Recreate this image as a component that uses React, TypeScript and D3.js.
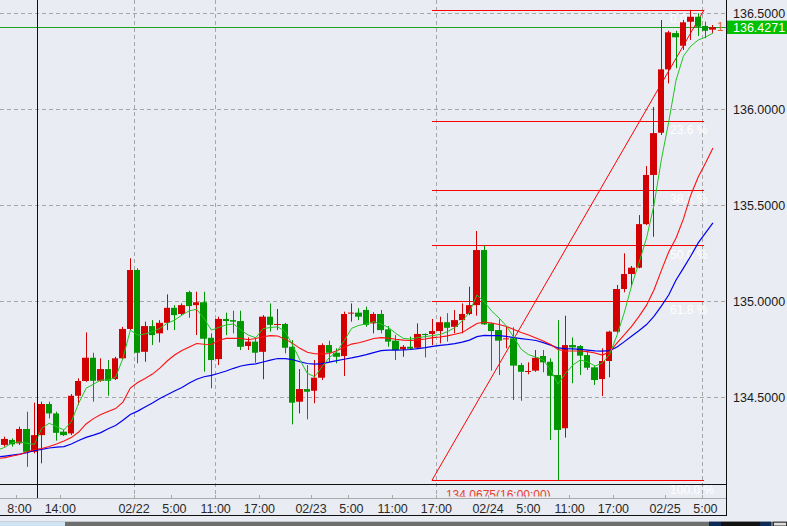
import React from "react";
import * as d3 from "d3";

// hours relative to 02/22 00:00 ; first candle hour
const startHour = -19;

const opens = [
  134.231, 134.252, 134.278, 134.260, 134.335, 134.216, 134.303, 134.465, 134.416, 134.321,
  134.312, 134.508, 134.585, 134.706, 134.586, 134.647, 134.595, 134.703, 134.856, 135.163,
  134.737, 134.871, 134.833, 134.888, 134.966, 134.934, 135.048, 134.980, 134.995, 134.810,
  134.699, 134.908, 134.902, 134.897, 134.767, 134.790, 134.737, 134.920, 134.877, 134.882,
  134.763, 134.477, 134.543, 134.534, 134.602, 134.772, 134.732, 134.715, 134.938, 134.941,
  134.955, 134.885, 134.934, 134.854, 134.795, 134.750, 134.763, 134.758, 134.830, 134.830,
  134.845, 134.891, 134.867, 134.902, 134.934, 134.980, 135.267, 134.885, 134.850, 134.802,
  134.807, 134.668, 134.633, 134.639, 134.715, 134.685, 134.616, 134.339, 134.772, 134.767,
  134.720, 134.656, 134.595, 134.689, 134.842, 135.064, 135.142, 135.175, 135.402, 135.658,
  135.878, 136.208, 136.397, 136.331, 136.456, 136.482, 136.434, 136.415,
];
const highs = [
  134.260, 134.295, 134.286, 134.347, 134.425, 134.472, 134.477, 134.477, 134.425, 134.330,
  134.517, 134.599, 134.838, 134.732, 134.703, 134.694, 134.711, 134.867, 135.224, 135.172,
  134.894, 134.902, 134.902, 135.036, 134.980, 134.989, 135.055, 135.050, 135.050, 134.833,
  134.920, 134.941, 134.951, 134.951, 134.812, 134.812, 134.928, 134.989, 134.960, 134.888,
  134.798, 134.647, 134.668, 134.694, 134.781, 134.795, 134.755, 134.946, 134.989, 134.964,
  134.972, 134.943, 134.955, 134.871, 134.824, 134.772, 134.816, 134.885, 134.833, 134.908,
  134.920, 134.938, 134.955, 134.989, 135.076, 135.366, 135.290, 134.888, 134.906, 134.871,
  134.865, 134.679, 134.682, 134.746, 134.746, 134.703, 134.902, 134.925, 134.812, 134.772,
  134.743, 134.663, 134.755, 134.847, 135.085, 135.250, 135.184, 135.449, 135.705, 136.012,
  136.465, 136.409, 136.409, 136.465, 136.518, 136.500, 136.456, 136.439,
];
const lows = [
  134.225, 134.243, 134.243, 134.252, 134.138, 134.208, 134.156, 134.390, 134.274, 134.298,
  134.303, 134.460, 134.581, 134.477, 134.581, 134.508, 134.590, 134.694, 134.850, 134.677,
  134.685, 134.772, 134.786, 134.850, 134.850, 134.928, 134.914, 134.824, 134.633, 134.547,
  134.668, 134.824, 134.833, 134.746, 134.746, 134.680, 134.594, 134.842, 134.850, 134.729,
  134.359, 134.416, 134.385, 134.469, 134.590, 134.685, 134.677, 134.611, 134.894, 134.902,
  134.867, 134.833, 134.833, 134.763, 134.694, 134.711, 134.746, 134.755, 134.708, 134.772,
  134.781, 134.790, 134.833, 134.833, 134.928, 134.925, 134.877, 134.639, 134.616, 134.755,
  134.486, 134.482, 134.620, 134.633, 134.630, 134.278, 134.0675, 134.290, 134.573, 134.616,
  134.642, 134.564, 134.507, 134.604, 134.833, 135.047, 135.076, 135.172, 135.397, 135.336,
  135.866, 136.135, 136.214, 136.309, 136.361, 136.382, 136.370, 136.396,
];
const closes = [
  134.252, 134.283, 134.255, 134.335, 134.216, 134.303, 134.465, 134.416, 134.315, 134.303,
  134.508, 134.585, 134.706, 134.586, 134.647, 134.586, 134.703, 134.856, 135.163, 134.732,
  134.871, 134.824, 134.888, 134.966, 134.928, 134.980, 134.975, 134.995, 134.805, 134.694,
  134.908, 134.897, 134.894, 134.763, 134.790, 134.732, 134.920, 134.877, 134.882, 134.758,
  134.472, 134.543, 134.529, 134.602, 134.772, 134.732, 134.711, 134.934, 134.941, 134.920,
  134.877, 134.934, 134.850, 134.790, 134.746, 134.763, 134.753, 134.830, 134.824, 134.845,
  134.891, 134.862, 134.902, 134.934, 134.980, 135.267, 134.880, 134.845, 134.795, 134.807,
  134.665, 134.633, 134.637, 134.706, 134.682, 134.612, 134.330, 134.772, 134.760, 134.717,
  134.654, 134.590, 134.689, 134.842, 135.064, 135.142, 135.175, 135.402, 135.658, 135.876,
  136.208, 136.401, 136.375, 136.453, 136.482, 136.430, 136.409, 136.4271,
];

const maFast = [
  134.225, 134.240, 134.264, 134.267, 134.260, 134.255, 134.339, 134.365, 134.347, 134.330,
  134.373, 134.469, 134.547, 134.568, 134.590, 134.590, 134.604, 134.703, 134.850, 134.824,
  134.830, 134.842, 134.859, 134.885, 134.902, 134.928, 134.951, 134.958, 134.911, 134.850,
  134.864, 134.877, 134.882, 134.850, 134.824, 134.810, 134.857, 134.864, 134.867, 134.842,
  134.772, 134.694, 134.625, 134.607, 134.659, 134.708, 134.737, 134.795, 134.859, 134.875,
  134.882, 134.894, 134.882, 134.864, 134.833, 134.807, 134.803, 134.811, 134.816, 134.822,
  134.827, 134.842, 134.863, 134.897, 134.944, 135.033, 134.996, 134.949, 134.913, 134.871,
  134.812, 134.750, 134.722, 134.710, 134.694, 134.642, 134.568, 134.624, 134.668, 134.694,
  134.685, 134.663, 134.678, 134.725, 134.824, 134.944, 135.085, 135.204, 135.330, 135.501,
  135.736, 135.934, 136.152, 136.277, 136.329, 136.361, 136.376, 136.397,
];
const maMid = [
  134.181, 134.186, 134.194, 134.202, 134.216, 134.228, 134.233, 134.244, 134.257, 134.272,
  134.290, 134.319, 134.361, 134.389, 134.410, 134.426, 134.441, 134.475, 134.548, 134.577,
  134.598, 134.621, 134.652, 134.689, 134.720, 134.744, 134.762, 134.780, 134.776, 134.775,
  134.797, 134.807, 134.807, 134.807, 134.800, 134.806, 134.815, 134.821, 134.819, 134.803,
  134.781, 134.755, 134.735, 134.727, 134.726, 134.728, 134.743, 134.761, 134.777, 134.784,
  134.795, 134.806, 134.811, 134.808, 134.802, 134.798, 134.796, 134.799, 134.804, 134.811,
  134.814, 134.820, 134.828, 134.837, 134.861, 134.884, 134.892, 134.887, 134.879, 134.869,
  134.853, 134.837, 134.824, 134.809, 134.793, 134.775, 134.749, 134.741, 134.741, 134.741,
  134.738, 134.731, 134.720, 134.737, 134.783, 134.827, 134.871, 134.923, 134.980, 135.059,
  135.160, 135.257, 135.330, 135.429, 135.554, 135.647, 135.720, 135.798,
];
const maSlow = [
  134.189, 134.194, 134.199, 134.204, 134.212, 134.223, 134.229, 134.236, 134.240, 134.243,
  134.257, 134.275, 134.291, 134.303, 134.316, 134.336, 134.353, 134.380, 134.410, 134.428,
  134.449, 134.470, 134.494, 134.513, 134.533, 134.551, 134.574, 134.594, 134.607, 134.614,
  134.625, 134.637, 134.651, 134.663, 134.670, 134.674, 134.684, 134.694, 134.702, 134.701,
  134.696, 134.685, 134.676, 134.673, 134.675, 134.683, 134.691, 134.698, 134.705, 134.713,
  134.722, 134.733, 134.743, 134.746, 134.746, 134.747, 134.749, 134.754, 134.759, 134.765,
  134.770, 134.774, 134.780, 134.787, 134.798, 134.816, 134.822, 134.821, 134.821, 134.817,
  134.811, 134.806, 134.801, 134.796, 134.785, 134.772, 134.757, 134.754, 134.752, 134.750,
  134.746, 134.742, 134.741, 134.743, 134.762, 134.790, 134.819, 134.848, 134.879, 134.921,
  134.975, 135.033, 135.111, 135.173, 135.236, 135.304, 135.356, 135.408,
];

const priceTicks = [136.5, 136.0, 135.5, 135.0, 134.5];
const timeTicks = [-16, -10, 0, 5, 11, 17, 24, 29, 35, 41, 48, 53, 59, 65, 72, 77];
const timeLabels = ["8:00", "14:00", "02/22", "5:00", "11:00", "17:00", "02/23", "5:00", "11:00", "17:00", "02/24", "5:00", "11:00", "17:00", "02/25", "5:00"];
const vGridHours = [0, 11, 41, 77];
const crossHour = -13.15;
const lastPrice = 136.4271;

const fibLow = 134.0675;
const fibHigh = 136.518;
const fibLevels = [0, 0.236, 0.382, 0.5, 0.618, 1];
const fibLabels = ["0.0 %", "23.6 %", "38.2 %", "50.0 %", "61.8 %", "100.0 %"];
const fibStartHour = 40.4;
const fibEndHour = 77.3;
const fibLowLabel = "134.0675(16:00:00)";

const W = 787;
const H = 526;
const plotR = 726;
const plotB = 484;
const axisLineY = 498;
const bottomLineY = 515;

const BG = "#e9ecf3";
const RED = "#d20000";
const GREEN = "#009600";
const FONT = "'Liberation Sans', Arial, sans-serif";

export default function App() {
  const x = d3.scaleLinear().domain([0, 24]).range([134, 311]);
  const y = d3.scaleLinear().domain([134.5, 136.5]).range([397.3, 13.3]);

  const hours = opens.map((_, i) => startHour + i);
  const line = (vals: number[]) =>
    d3
      .line<number>()
      .x((_, i) => x(hours[i] + 0.5))
      .y((v) => y(v))(vals) || "";

  const fx0 = x(fibStartHour);
  const fx1 = x(fibEndHour);
  const fibPrice = (l: number) => fibHigh - l * (fibHigh - fibLow);

  return (
    <svg
      width={W}
      height={H}
      style={{ position: "absolute", left: 0, top: 0, display: "block" }}
      fontFamily={FONT}
    >
      <defs>
        <clipPath id="plot">
          <rect x={0} y={0} width={plotR} height={plotB} />
        </clipPath>
        <clipPath id="below">
          <rect x={0} y={plotB + 1} width={plotR} height={11.5} />
        </clipPath>
        <clipPath id="right">
          <rect x={0} y={0} width={plotR} height={plotB} />
        </clipPath>
      </defs>
      <rect x={0} y={0} width={W} height={H} fill={BG} />

      {/* horizontal grid */}
      {priceTicks.map((p) => (
        <line
          key={"hg" + p}
          x1={0}
          x2={plotR}
          y1={Math.round(y(p)) + 0.5}
          y2={Math.round(y(p)) + 0.5}
          stroke="#a6a6a6"
          strokeDasharray="4,3"
        />
      ))}
      {/* vertical grid */}
      {vGridHours.map((h) => (
        <line
          key={"vg" + h}
          x1={Math.round(x(h)) + 0.5}
          x2={Math.round(x(h)) + 0.5}
          y1={0}
          y2={axisLineY}
          stroke="#a6a6a6"
          strokeDasharray="4,3"
        />
      ))}

      {/* current price line */}
      <line
        x1={0}
        x2={plotR}
        y1={Math.round(y(lastPrice)) + 0.5}
        y2={Math.round(y(lastPrice)) + 0.5}
        stroke="#1aa31a"
        strokeWidth={1}
      />

      {/* fibonacci */}
      <g clipPath="url(#plot)">
        {fibLevels.map((l) => (
          <line
            key={"fl" + l}
            x1={fx0}
            x2={fx1}
            y1={Math.round(y(fibPrice(l))) + 0.5}
            y2={Math.round(y(fibPrice(l))) + 0.5}
            stroke="#ff0000"
            strokeWidth={1}
          />
        ))}
        <line x1={fx0} y1={y(fibLow)} x2={fx1} y2={y(fibHigh)} stroke="#ff0000" strokeWidth={1} />
        {fibLevels.slice(0, 5).map((l, i) => (
          <text key={"ft" + l} x={fx1 - 34} y={y(fibPrice(l)) + 13.5} fontSize={12} fill="#ffffff">
            {fibLabels[i]}
          </text>
        ))}
      </g>
      <g clipPath="url(#below)">
        <text x={fx1 - 34} y={y(fibPrice(1)) + 13.5} fontSize={12} fill="#ffffff">
          {fibLabels[5]}
        </text>
        <text x={fx0 + 14} y={y(fibLow) + 18.5} fontSize={12} fill="#e8402a">
          {fibLowLabel}
        </text>
      </g>

      {/* candles */}
      <g clipPath="url(#plot)">
        {opens.map((o, i) => {
          const h = hours[i];
          const c = closes[i];
          const col = c >= o ? RED : GREEN;
          const l0 = Math.round(x(h));
          const r0 = Math.round(x(h + 1));
          const cx = Math.floor(x(h + 0.5)) + 0.5;
          const yt = y(Math.max(o, c));
          const yb = y(Math.min(o, c));
          return (
            <g key={"c" + i}>
              <line x1={cx} x2={cx} y1={y(highs[i])} y2={y(lows[i])} stroke={col} strokeWidth={1} />
              <rect x={l0} y={yt} width={r0 - l0 - 1} height={Math.max(1, yb - yt)} fill={col} />
            </g>
          );
        })}
      </g>

      {/* moving averages */}
      <g clipPath="url(#plot)" fill="none">
        <path d={line(maSlow)} stroke="#0000ee" strokeWidth={1.2} />
        <path d={line(maMid)} stroke="#ff1010" strokeWidth={1.1} />
        <path d={line(maFast)} stroke="#22c422" strokeWidth={1} />
      </g>

      <text x={717} y={31} fontSize={12} fill="#e8602a" clipPath="url(#right)">
        1
      </text>

      {/* crosshair */}
      <line
        x1={Math.round(x(crossHour)) + 0.5}
        x2={Math.round(x(crossHour)) + 0.5}
        y1={0}
        y2={axisLineY}
        stroke="#111"
        strokeWidth={1}
      />

      {/* frame */}
      <line x1={0} x2={plotR + 0.5} y1={plotB + 0.5} y2={plotB + 0.5} stroke="#111" />
      <line x1={0} x2={plotR} y1={axisLineY + 0.5} y2={axisLineY + 0.5} stroke="#aaaaaa" />
      <line x1={0} x2={plotR + 0.5} y1={bottomLineY + 0.5} y2={bottomLineY + 0.5} stroke="#111" />
      <line x1={plotR + 0.5} x2={plotR + 0.5} y1={0} y2={bottomLineY + 1} stroke="#111" />

      {/* time axis */}
      {timeTicks.map((t, i) => (
        <g key={"tt" + i}>
          <line
            x1={Math.round(x(t)) + 0.5}
            x2={Math.round(x(t)) + 0.5}
            y1={axisLineY - 3}
            y2={axisLineY}
            stroke="#aaaaaa"
          />
          <text x={x(t) + 15.7} y={513} fontSize={12.5} fill="#2a2a2a" textAnchor="end">
            {timeLabels[i]}
          </text>
        </g>
      ))}

      {/* price axis */}
      {priceTicks.map((p) => (
        <text key={"pt" + p} x={733} y={y(p) + 5} fontSize={12.5} fill="#1a1a1a">
          {p.toFixed(4)}
        </text>
      ))}
      <rect x={727} y={y(lastPrice) - 6.7} width={60} height={13.4} fill="#00c000" />
      <text x={733} y={y(lastPrice) + 4.8} fontSize={12.5} fill="#ffffff">
        {lastPrice.toFixed(4)}
      </text>

      {/* bottom scroll strip */}
      <rect x={0} y={521.7} width={W} height={H - 521.7} fill="#6e6e6e" />
      <rect x={0} y={521.7} width={65} height={H - 521.7} fill="#cfe3f3" />
      <rect x={709} y={521.7} width={12} height={H - 521.7} fill="#0d2b55" />
      <rect x={721} y={521.7} width={39} height={H - 521.7} fill="#121212" />
      <rect x={760} y={521.7} width={11} height={H - 521.7} fill="#0d2b55" />
      <rect x={773.5} y={522.2} width={13} height={H - 522.2} fill="#dcdcdc" stroke="#333" />
    </svg>
  );
}
